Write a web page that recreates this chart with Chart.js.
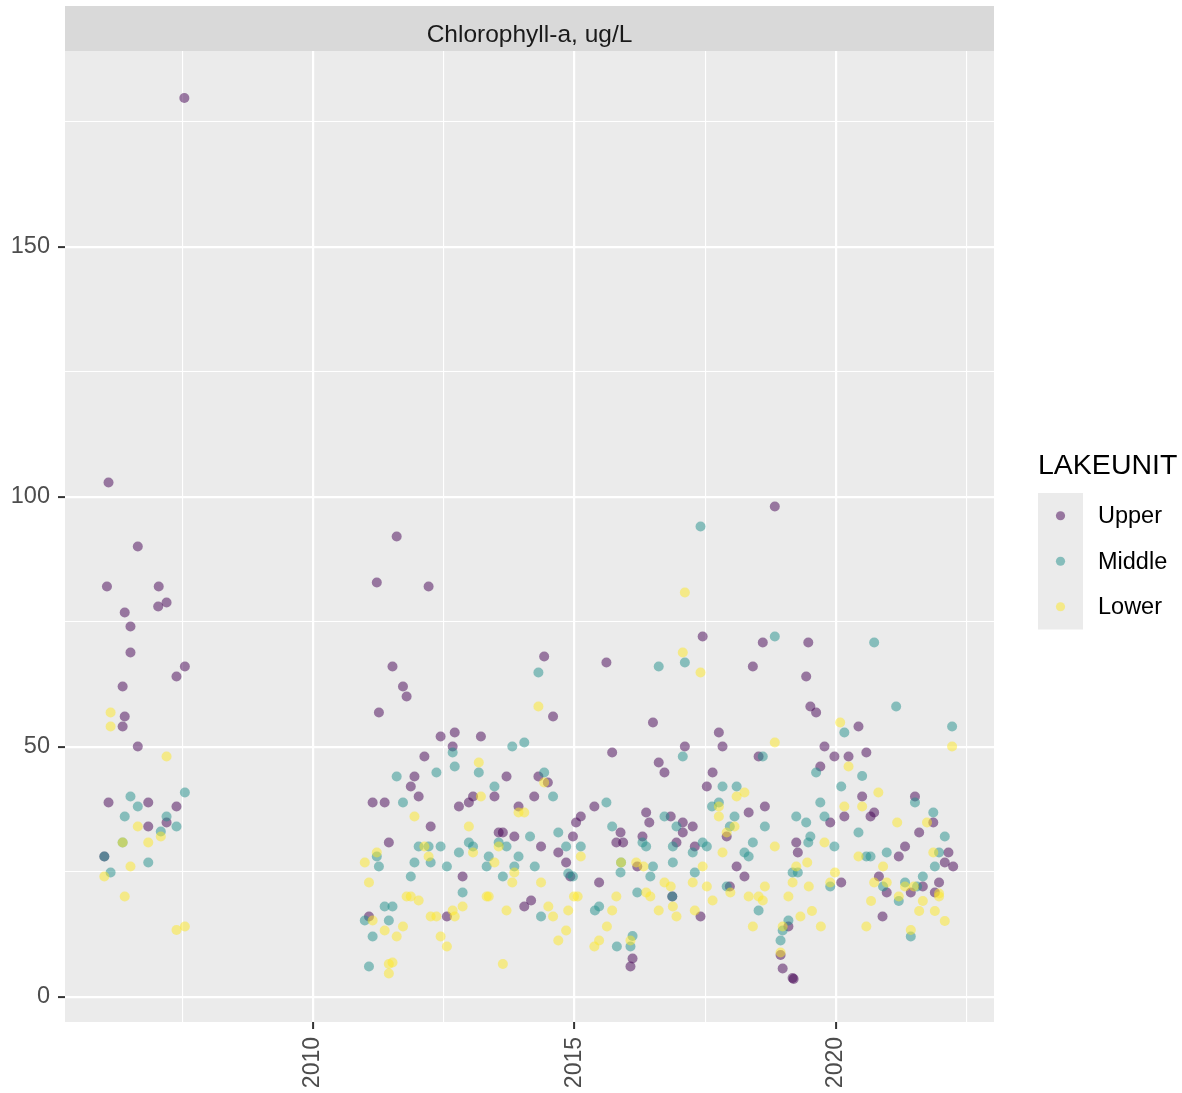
<!DOCTYPE html>
<html>
<head>
<meta charset="utf-8">
<script src="https://cdn.jsdelivr.net/npm/chart.js@4.4.0/dist/chart.umd.min.js"></script>
<style>
  html, body { margin: 0; padding: 0; background: #ffffff; }
  #wrap { width: 1182px; height: 1093px; position: relative; }
</style>
</head>
<body>
<div id="wrap"><canvas id="chl"></canvas></div>
<script>
// Chlorophyll-a samples (ug/L) per lake unit, sample date as decimal year
const upperYear = [
  2006.09, 2006.65, 2006.06, 2007.05, 2007.20, 2007.04, 2006.40, 2006.51, 2006.51, 2007.55,
  2007.39, 2006.36, 2006.40, 2006.36, 2006.65, 2006.09, 2006.85, 2007.39, 2006.85, 2007.20,
  2006.01, 2007.54,
  2011.60, 2011.22, 2012.21, 2011.52, 2011.72, 2011.79, 2011.26, 2012.44, 2012.71, 2013.21,
  2012.67, 2012.13, 2011.94, 2011.87, 2012.02, 2011.14, 2011.37, 2013.70, 2013.47, 2013.06,
  2012.98, 2012.79, 2012.25, 2013.55, 2013.63, 2011.45, 2012.86, 2011.07, 2012.56,
  2014.42, 2015.61, 2014.59, 2016.50, 2015.72, 2014.31, 2014.49, 2014.23, 2013.93, 2015.38,
  2015.12, 2015.03, 2016.37, 2016.43, 2013.85, 2014.36, 2014.69, 2014.97, 2015.88, 2015.80,
  2015.93, 2016.30, 2014.84, 2014.92, 2016.20, 2015.47, 2014.17, 2014.04, 2016.11, 2016.07,
  2018.83, 2017.45, 2018.60, 2018.41, 2017.76, 2017.11, 2017.83,
  2018.52, 2016.61, 2016.72, 2017.64, 2017.53, 2018.64, 2018.33, 2016.84, 2017.07, 2017.26,
  2017.07, 2017.91, 2016.95, 2017.30, 2019.24, 2019.27, 2018.10, 2018.25, 2017.97, 2016.87,
  2017.41, 2019.09, 2018.94, 2018.98, 2019.17, 2019.19,
  2019.47, 2019.43, 2019.51, 2019.62, 2020.43, 2019.78, 2019.97, 2020.24, 2020.58, 2019.70,
  2020.50, 2021.51, 2020.16, 2020.73, 2020.66, 2019.89, 2021.86, 2021.59, 2021.32, 2021.20,
  2022.15, 2022.08, 2022.24, 2020.82, 2020.10, 2020.97, 2021.43, 2021.66, 2021.97, 2021.89,
  2020.89
];
const upperChl = [
  102.9, 90.1, 82.1, 82.1, 78.9, 78.1, 76.9, 74.1, 68.9, 66.1,
  64.1, 62.1, 56.1, 54.1, 50.1, 38.9, 38.9, 38.1, 34.1, 34.9,
  28.1, 179.8,
  92.1, 82.9, 82.1, 66.1, 62.1, 60.1, 56.9, 52.1, 52.9, 52.1,
  50.1, 48.1, 44.1, 42.1, 40.1, 38.9, 38.9, 44.1, 40.1, 40.1,
  38.9, 38.1, 34.1, 32.9, 32.9, 30.9, 24.1, 16.1, 16.1,
  68.1, 66.9, 56.1, 54.9, 48.9, 44.1, 42.9, 40.1, 38.1, 38.1,
  36.1, 34.9, 36.9, 34.9, 32.1, 30.1, 28.9, 32.1, 32.9, 30.9,
  30.9, 32.1, 26.9, 24.1, 26.1, 22.9, 19.3, 18.1, 7.7, 6.1,
  98.1, 72.1, 70.9, 66.1, 52.9, 50.1, 50.1,
  48.1, 46.9, 44.9, 44.9, 42.1, 38.1, 36.9, 36.1, 34.9, 34.1,
  32.9, 32.1, 30.9, 30.1, 30.9, 28.9, 26.1, 24.1, 22.1, 20.1,
  16.1, 14.1, 8.4, 5.7, 3.8, 3.6,
  70.9, 64.1, 58.1, 56.9, 54.1, 50.1, 48.1, 48.1, 48.9, 46.1,
  40.1, 40.1, 36.1, 36.9, 36.1, 34.9, 34.9, 32.9, 30.1, 28.1,
  28.9, 26.9, 26.1, 24.1, 22.9, 20.9, 20.9, 22.1, 22.9, 20.9,
  16.1
];

const middleYear = [
  2007.55, 2006.51, 2006.65, 2006.40, 2007.20, 2007.39, 2007.09, 2006.85, 2006.13, 2006.01,
  2006.36,
  2012.67, 2012.71, 2013.17, 2011.60, 2012.36, 2013.47, 2011.72, 2012.02, 2012.21, 2012.44,
  2012.98, 2013.06, 2012.79, 2013.55, 2013.70, 2011.22, 2013.36, 2011.26, 2011.94, 2012.25,
  2012.56, 2013.32, 2011.87, 2013.63, 2012.86, 2011.37, 2011.52, 2010.99, 2011.45, 2011.14,
  2011.07,
  2014.31, 2013.81, 2014.04, 2014.42, 2014.59, 2015.61, 2014.15, 2014.69, 2014.84, 2015.12,
  2015.72, 2016.30, 2016.37, 2013.93, 2013.85, 2014.24, 2014.88, 2014.97, 2015.89, 2015.88,
  2016.50, 2016.45, 2016.20, 2014.36, 2015.39, 2015.47, 2015.81, 2016.11, 2016.07,
  2017.41, 2018.83, 2016.61, 2017.11,
  2017.07, 2018.60, 2017.83, 2018.10, 2017.76, 2017.63, 2018.06, 2019.24, 2016.72, 2016.95,
  2017.97, 2018.64, 2016.88, 2017.45, 2017.53, 2017.26, 2018.41, 2018.25, 2018.33, 2016.88,
  2017.30, 2019.17, 2019.27, 2017.91, 2016.87, 2018.52, 2019.09, 2018.98, 2018.94,
  2020.73, 2021.15, 2020.16, 2022.22, 2019.62, 2020.50,
  2020.10, 2021.51, 2019.70, 2019.78, 2021.86, 2019.43, 2020.43, 2022.08, 2019.51, 2019.47,
  2019.97, 2020.58, 2020.66, 2020.97, 2021.97, 2021.89, 2021.66, 2019.89, 2020.90, 2021.32,
  2021.55, 2021.20, 2021.43
];
const middleChl = [
  40.9, 40.1, 38.1, 36.1, 36.1, 34.1, 33.1, 26.9, 24.9, 28.1,
  30.9,
  48.9, 46.1, 44.9, 44.1, 44.9, 42.1, 38.9, 30.1, 30.1, 30.1,
  30.9, 30.1, 28.9, 30.9, 30.1, 28.1, 28.1, 26.1, 26.9, 26.9,
  26.1, 26.1, 24.1, 24.1, 20.9, 18.1, 18.1, 15.3, 15.3, 12.1,
  6.1,
  64.9, 50.1, 50.9, 44.9, 40.1, 38.9, 32.1, 32.9, 30.1, 30.1,
  34.1, 30.9, 30.1, 28.1, 26.1, 26.1, 24.7, 24.1, 26.9, 24.9,
  26.1, 24.1, 20.9, 16.1, 17.3, 18.1, 10.1, 12.2, 10.1,
  94.1, 72.1, 66.1, 66.9,
  48.1, 48.1, 42.1, 42.1, 38.9, 38.1, 36.1, 36.1, 36.1, 34.1,
  34.1, 34.1, 30.1, 30.9, 30.1, 28.9, 30.9, 28.9, 28.1, 26.9,
  24.9, 24.9, 24.9, 22.1, 20.1, 17.3, 15.3, 13.3, 11.3,
  70.9, 58.1, 52.9, 54.1, 44.9, 44.2,
  42.1, 38.9, 38.9, 36.1, 36.9, 34.9, 32.9, 32.1, 32.1, 30.9,
  30.1, 28.1, 28.1, 28.9, 28.9, 26.1, 24.1, 22.1, 22.1, 22.9,
  22.1, 19.2, 12.1
];

const lowerYear = [
  2006.13, 2006.13, 2007.20, 2006.65, 2007.09, 2006.36, 2006.85, 2006.51, 2006.01, 2006.40,
  2007.39, 2007.55,
  2013.17, 2013.21, 2011.94, 2012.98, 2012.13, 2013.06, 2013.55, 2011.22, 2012.21, 2010.99,
  2013.47, 2011.07, 2011.79, 2011.87, 2012.02, 2013.32, 2013.36, 2012.86, 2012.67, 2013.70,
  2011.14, 2012.25, 2012.36, 2012.71, 2011.72, 2011.37, 2011.60, 2012.44, 2012.56, 2011.45,
  2011.52, 2011.45, 2013.63,
  2014.31, 2014.42, 2013.93, 2014.04, 2015.12, 2013.85, 2015.89, 2016.18, 2016.32, 2013.81,
  2014.36, 2014.99, 2015.06, 2015.80, 2016.37, 2016.45, 2014.50, 2014.59, 2014.88, 2015.72,
  2014.84, 2014.69, 2015.62, 2015.47, 2015.38, 2016.07,
  2017.11, 2017.07, 2017.41, 2018.83,
  2018.25, 2018.10, 2017.76, 2017.76, 2018.06, 2017.91, 2017.83, 2018.83, 2017.45, 2019.24,
  2016.72, 2016.84, 2017.26, 2017.53, 2017.98, 2018.64, 2019.17, 2016.88, 2017.64, 2018.33,
  2018.52, 2018.60, 2019.09, 2016.61, 2016.95, 2017.30, 2018.41, 2018.98, 2018.94,
  2020.08, 2022.22, 2020.24,
  2020.81, 2020.16, 2020.50, 2021.17, 2021.74, 2019.78, 2020.43, 2021.86, 2019.45, 2020.90,
  2019.98, 2019.48, 2019.89, 2020.73, 2020.97, 2021.32, 2021.49, 2021.97, 2021.97, 2021.20,
  2020.67, 2021.66, 2019.54, 2019.32, 2021.59, 2021.89, 2022.08, 2019.71, 2020.58, 2021.43
];
const lowerChl = [
  56.9, 54.1, 48.1, 34.1, 32.1, 30.9, 30.9, 26.1, 24.1, 20.1,
  13.4, 14.1,
  46.9, 40.1, 36.1, 34.1, 30.1, 28.9, 30.1, 28.9, 28.1, 26.9,
  26.9, 22.9, 20.1, 20.1, 19.3, 20.1, 20.1, 18.1, 17.3, 17.3,
  15.3, 16.1, 16.1, 16.1, 14.1, 13.3, 12.1, 12.1, 10.1, 6.6,
  6.9, 4.7, 6.6,
  58.1, 42.9, 36.9, 36.9, 28.1, 24.9, 26.9, 26.9, 26.1, 22.9,
  22.9, 20.1, 20.1, 20.1, 20.9, 20.1, 18.1, 16.1, 17.3, 17.3,
  13.3, 11.3, 14.1, 11.3, 10.1, 11.3,
  80.9, 68.9, 64.9, 50.9,
  40.9, 40.1, 38.1, 36.1, 34.1, 32.9, 28.9, 30.1, 26.1, 26.1,
  22.9, 22.1, 22.9, 22.1, 20.9, 22.1, 22.9, 18.1, 19.3, 20.1,
  20.1, 19.3, 20.1, 17.3, 16.1, 17.3, 14.1, 14.1, 8.9,
  54.9, 50.1, 46.1,
  40.9, 38.1, 38.1, 34.9, 34.9, 30.9, 28.1, 28.9, 26.9, 26.1,
  24.9, 22.1, 22.9, 22.9, 22.9, 22.1, 22.1, 20.7, 20.1, 20.1,
  19.2, 19.2, 17.2, 16.1, 17.2, 17.2, 15.2, 14.1, 14.1, 13.4
];

const unitNames = ['Upper', 'Middle', 'Lower'];
const unitColors = ['rgba(68, 1, 84, 0.5)', 'rgba(33, 144, 140, 0.5)', 'rgba(253, 231, 37, 0.5)'];

const xTicks = [2007.5, 2010, 2012.5, 2015, 2017.5, 2020, 2022.5];
const xLabelled = [2010, 2015, 2020];
const yTicks = [0, 25, 50, 75, 100, 125, 150, 175];
const yLabelled = [0, 50, 100, 150];

const stripText = 'Chlorophyll-a, ug/L';
const legendTitle = 'LAKEUNIT';

const FONT = '"Liberation Sans", Arial, Helvetica, sans-serif';

function toPoints(xs, ys) {
  return xs.map((x, i) => ({ x: x, y: ys[i] }));
}

// grey panel behind the grid
const panelBg = {
  id: 'panelBg',
  beforeDraw(chart) {
    const { ctx, chartArea: a } = chart;
    ctx.save();
    ctx.fillStyle = '#EBEBEB';
    ctx.fillRect(a.left, a.top, a.right - a.left, a.bottom - a.top);
    ctx.restore();
  }
};

// facet strip above the panel
const facetStrip = {
  id: 'facetStrip',
  afterDraw(chart) {
    const { ctx, chartArea: a } = chart;
    const top = 6;
    ctx.save();
    ctx.fillStyle = '#D9D9D9';
    ctx.fillRect(a.left, top, a.right - a.left, a.top - top);
    ctx.fillStyle = '#1A1A1A';
    ctx.font = '24.5px ' + FONT;
    ctx.textAlign = 'center';
    ctx.textBaseline = 'alphabetic';
    ctx.fillText(stripText, (a.left + a.right) / 2, 42);
    ctx.restore();
  }
};

// legend drawn to the right of the panel
const unitLegend = {
  id: 'unitLegend',
  afterDraw(chart) {
    const ctx = chart.ctx;
    const x0 = 1038, keyW = 45, keyH = 45.5, top = 493;
    ctx.save();
    ctx.fillStyle = '#000000';
    ctx.font = '28.5px ' + FONT;
    ctx.textAlign = 'left';
    ctx.textBaseline = 'middle';
    ctx.fillText(legendTitle, x0, 466);
    ctx.fillStyle = '#EBEBEB';
    ctx.fillRect(x0, top, keyW, keyH * unitNames.length);
    ctx.font = '23.5px ' + FONT;
    unitNames.forEach((name, i) => {
      const cy = top + keyH * i + keyH / 2;
      ctx.fillStyle = unitColors[i];
      ctx.beginPath();
      ctx.arc(x0 + keyW / 2, cy, 4.6, 0, Math.PI * 2);
      ctx.fill();
      ctx.fillStyle = '#000000';
      ctx.fillText(name, 1098, cy + 1);
    });
    ctx.restore();
  }
};

Chart.defaults.font.family = FONT;

new Chart(document.getElementById('chl'), {
  type: 'scatter',
  data: {
    datasets: [
      { label: unitNames[0], data: toPoints(upperYear, upperChl), backgroundColor: unitColors[0], order: 3 },
      { label: unitNames[1], data: toPoints(middleYear, middleChl), backgroundColor: unitColors[1], order: 2 },
      { label: unitNames[2], data: toPoints(lowerYear, lowerChl), backgroundColor: unitColors[2], order: 1 }
    ]
  },
  options: {
    responsive: true,
    maintainAspectRatio: false,
    animation: false,
    events: [],
    elements: {
      point: { radius: 5, borderWidth: 0, hoverRadius: 5 }
    },
    layout: {
      padding: { top: 51, right: 188, left: 0, bottom: 0 }
    },
    plugins: {
      legend: { display: false },
      tooltip: { enabled: false },
      title: { display: false }
    },
    scales: {
      x: {
        type: 'linear',
        min: 2005.258,
        max: 2023.021,
        afterBuildTicks: (s) => { s.ticks = xTicks.map(v => ({ value: v })); },
        afterFit: (s) => { s.height = 71; },
        border: { display: false },
        grid: {
          color: '#FFFFFF',
          lineWidth: (c) => (xLabelled.includes(c.tick.value) ? 2.2 : 1.1),
          tickColor: (c) => (xLabelled.includes(c.tick.value) ? '#333333' : 'rgba(0,0,0,0)'),
          tickWidth: 2,
          tickLength: 7
        },
        ticks: {
          autoSkip: false,
          minRotation: 90,
          maxRotation: 90,
          padding: 8,
          color: '#4D4D4D',
          font: { size: 23 },
          callback: (v) => (xLabelled.includes(v) ? String(v) : '')
        }
      },
      y: {
        type: 'linear',
        min: -5,
        max: 189.2,
        afterBuildTicks: (s) => { s.ticks = yTicks.map(v => ({ value: v })); },
        afterFit: (s) => { s.width = 65; },
        border: { display: false },
        grid: {
          color: '#FFFFFF',
          lineWidth: (c) => (yLabelled.includes(c.tick.value) ? 2.2 : 1.1),
          tickColor: (c) => (yLabelled.includes(c.tick.value) ? '#333333' : 'rgba(0,0,0,0)'),
          tickWidth: 2,
          tickLength: 7
        },
        ticks: {
          padding: 8,
          color: '#4D4D4D',
          font: { size: 23.5 },
          callback: (v) => (yLabelled.includes(v) ? String(v) : '')
        }
      }
    }
  },
  plugins: [panelBg, facetStrip, unitLegend]
});
</script>
</body>
</html>
